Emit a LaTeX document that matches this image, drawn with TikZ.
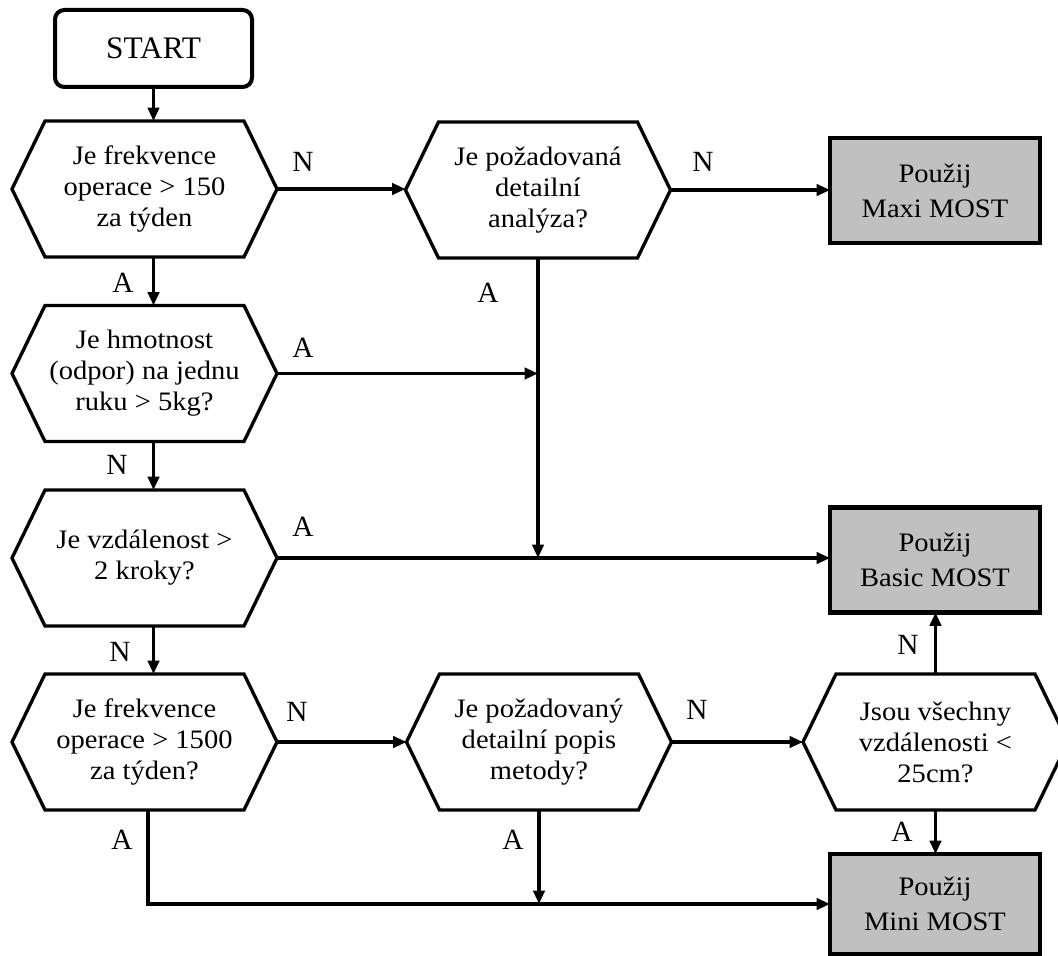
\documentclass[tikz,border=0pt]{standalone}
\usepackage{fontspec}
\setmainfont[FakeStretch=1.07]{Liberation Serif}
\newfontfamily\tagfont{Liberation Serif}
\usetikzlibrary{arrows.meta}

\definecolor{boxgray}{HTML}{C0C0C0}

\tikzset{
  conn/.style={line width=2.3pt, -{Triangle[length=10pt,width=8.5pt]}},
  hexbody/.style={rectangle, minimum width=198.75pt, minimum height=102pt,
    inner sep=0pt, outer sep=0pt, align=center,
    font=\fontsize{20}{23.25}\selectfont},
  hexline/.style={line width=2.5pt, line join=miter},
  result/.style={rectangle, draw, fill=boxgray, line width=3.6pt,
    minimum width=157.5pt, minimum height=78.75pt, inner sep=0pt, outer sep=0pt,
    align=center, font=\fontsize{20}{26.25}\selectfont},
  startbox/.style={rectangle, rounded corners=7pt, draw, line width=3pt,
    minimum width=147.75pt, minimum height=57.75pt, inner sep=0pt, outer sep=0pt,
    font=\tagfont\fontsize{23.5}{26}\selectfont},
  tag/.style={inner sep=0pt, font=\tagfont\fontsize{22}{24}\selectfont}
}

% decision hexagon: name, centre, text
\newcommand\hexdecision[3]{%
  \node[hexbody] (#1) at (#2) {#3};
  \draw[hexline] (#1.west) -- ([xshift=24.75pt]#1.north west)
    -- ([xshift=-24.75pt]#1.north east) -- (#1.east)
    -- ([xshift=-24.75pt]#1.south east) -- ([xshift=24.75pt]#1.south west)
    -- cycle;}

\begin{document}
\begin{tikzpicture}[x=0.75pt,y=-0.75pt]
  \path[fill=white, use as bounding box] (0,0) rectangle (1058,956);

  % terminal and result boxes
  \node[startbox] (start) at (153.5,48.5) {START};
  \node[result] (maxi)  at (935,190.5) {Použij\\Maxi MOST};
  \node[result] (basic) at (935,560) {Použij\\Basic MOST};
  \node[result, minimum height=75pt] (mini) at (935,904) {Použij\\Mini MOST};

  % decisions
  \hexdecision{h1}{144.5,189}{Je frekvence\\operace > 150\\za týden}
  \hexdecision{h2}{538,190}{Je požadovaná\\detailní\\analýza?}
  \hexdecision{h3}{144.5,373.5}{Je hmotnost\\(odpor) na jednu\\ruku > 5kg?}
  \hexdecision{h4}{144.5,558}{Je vzdálenost >\\2 kroky?}
  \hexdecision{h5}{144.5,742}{Je frekvence\\operace > 1500\\za týden?}
  \hexdecision{h6}{539,742}{Je požadovaný\\detailní popis\\metody?}
  \hexdecision{h7}{935.5,742}{Jsou všechny\\vzdálenosti <\\25cm?}

  % connectors
  \draw[conn] (start.south) -- (start.south |- h1.north);
  \draw[conn] (start.south |- h1.south) -- (start.south |- h3.north);
  \draw[conn] (start.south |- h3.south) -- (start.south |- h4.north);
  \draw[conn] (start.south |- h4.south) -- (start.south |- h5.north);

  \draw[conn] (h1.east) -- (h1.east -| h2.west);
  \draw[conn] (h2.east) -- (h2.east -| maxi.west);
  \coordinate (merge) at (h2.south |- h4.east);
  \draw[conn] (h2.south) -- (merge);
  \draw[conn] (h3.east) -- (h3.east -| h2.south);
  \draw[conn] (h4.east) -- (h4.east -| basic.west);

  \draw[conn] (h5.east) -- (h5.east -| h6.west);
  \draw[conn] (h6.east) -- (h6.east -| h7.west);
  \draw[conn] (h7.north) -- (h7.north |- basic.south);
  \draw[conn] (h7.south) -- (h7.south |- mini.north);
  \draw[conn] ([xshift=2.6pt]h5.south) |- (mini.west);
  \draw[conn] (h6.south) -- (h6.south |- mini.west);

  % branch labels
  \node[tag] (t1) at (303,162) {N};
  \node[tag] (t2) at (703,162) {N};
  \node[tag] (t3) at (123,283) {A};
  \node[tag] (t4) at (488,293) {A};
  \node[tag] (t5) at (303,348) {A};
  \node[tag] (t6) at (117,465) {N};
  \node[tag] (t7) at (303,527) {A};
  \node[tag] (t8) at (120,652) {N};
  \node[tag] (t9) at (297,712) {N};
  \node[tag] (t10) at (697,710) {N};
  \node[tag] (t11) at (908,645) {N};
  \node[tag] (t12) at (122,840) {A};
  \node[tag] (t13) at (513,840) {A};
  \node[tag] (t14) at (902,832) {A};
\end{tikzpicture}
\end{document}
